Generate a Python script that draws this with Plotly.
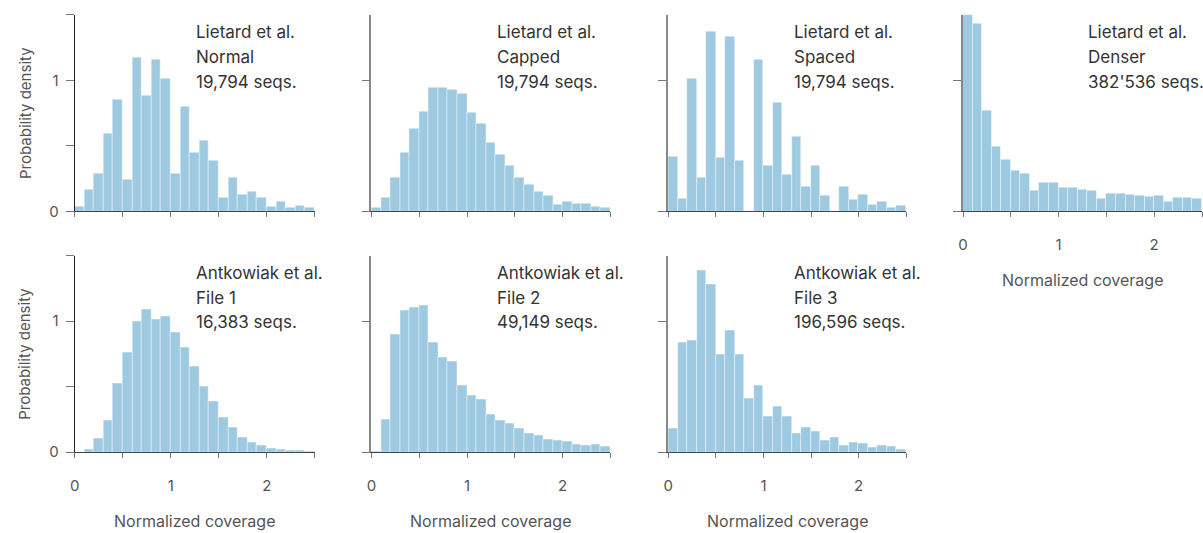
import plotly.graph_objects as go

# Histogram bin edges (normalized coverage, width 0.1 from 0 to 2.5)
bin_edges = [round(0.1 * i, 1) for i in range(26)]
bin_centers = [round((a + b) / 2, 3) for a, b in zip(bin_edges[:-1], bin_edges[1:])]

# Probability density per bin for each dataset
lietard_normal = [0.035, 0.165, 0.29, 0.595, 0.85, 0.245, 1.17, 0.88, 1.16, 1.015,
                  0.285, 0.80, 0.45, 0.535, 0.39, 0.105, 0.26, 0.125, 0.15, 0.105,
                  0.035, 0.07, 0.03, 0.045, 0.028]
lietard_capped = [0.03, 0.105, 0.26, 0.45, 0.63, 0.76, 0.945, 0.945, 0.925, 0.90,
                  0.75, 0.67, 0.52, 0.435, 0.35, 0.26, 0.205, 0.15, 0.12, 0.05,
                  0.075, 0.055, 0.055, 0.035, 0.03]
lietard_spaced = [0.42, 0.10, 1.01, 0.26, 1.37, 0.41, 1.335, 0.39, 0.0, 1.16,
                  0.345, 0.83, 0.28, 0.57, 0.19, 0.345, 0.12, 0.0, 0.19, 0.09,
                  0.13, 0.05, 0.07, 0.03, 0.045]
lietard_denser = [1.62, 1.435, 0.765, 0.49, 0.395, 0.31, 0.285, 0.16, 0.22, 0.215,
                  0.18, 0.18, 0.165, 0.155, 0.10, 0.135, 0.135, 0.125, 0.12, 0.115,
                  0.12, 0.07, 0.105, 0.105, 0.095]
antkowiak_file1 = [0.0, 0.02, 0.105, 0.24, 0.52, 0.76, 0.995, 1.09, 1.01, 1.035,
                   0.915, 0.80, 0.65, 0.50, 0.39, 0.265, 0.19, 0.115, 0.075, 0.048,
                   0.03, 0.02, 0.012, 0.01, 0.005]
antkowiak_file2 = [0.005, 0.25, 0.90, 1.08, 1.105, 1.115, 0.835, 0.725, 0.69, 0.51,
                   0.43, 0.405, 0.29, 0.245, 0.22, 0.18, 0.145, 0.13, 0.10, 0.09,
                   0.08, 0.06, 0.053, 0.055, 0.043]
antkowiak_file3 = [0.18, 0.84, 0.85, 1.385, 1.28, 0.745, 0.93, 0.745, 0.41, 0.51,
                   0.27, 0.345, 0.27, 0.145, 0.19, 0.155, 0.085, 0.11, 0.053, 0.073,
                   0.065, 0.038, 0.048, 0.04, 0.02]

# Panel labels: source, variant, sequence count
sources = ["Lietard et al.", "Lietard et al.", "Lietard et al.", "Lietard et al.",
           "Antkowiak et al.", "Antkowiak et al.", "Antkowiak et al."]
variants = ["Normal", "Capped", "Spaced", "Denser", "File 1", "File 2", "File 3"]
seq_counts = ["19,794 seqs.", "19,794 seqs.", "19,794 seqs.", "382'536 seqs.",
              "16,383 seqs.", "49,149 seqs.", "196,596 seqs."]
series = [lietard_normal, lietard_capped, lietard_spaced, lietard_denser,
          antkowiak_file1, antkowiak_file2, antkowiak_file3]

x_tick_vals = [0, 0.5, 1, 1.5, 2, 2.5]
x_tick_text = ["0", "", "1", "", "2", ""]

W, H = 1203, 533
BAR = "#9ecae1"
FONT = "Inter, Roboto, sans-serif"
LABEL_SIZE = 17

# pixel layout of panels (left, right) and rows (top, bottom)
cols_px = [(70, 311), (368, 608), (666, 905), (962, 1202)]
rows_px = [(15, 215), (260, 460)]
positions = [(0, 0), (0, 1), (0, 2), (0, 3), (1, 0), (1, 1), (1, 2)]

fig = go.Figure()
layout = dict(width=W, height=H, margin=dict(l=0, r=0, t=0, b=0),
              paper_bgcolor="white", plot_bgcolor="white", showlegend=False,
              bargap=0, font=dict(family=FONT, size=14, color="#555"))
annotations = []

for i, (vals, pos) in enumerate(zip(series, positions)):
    r, c = pos
    n = "" if i == 0 else str(i + 1)
    fig.add_trace(go.Bar(
        x=bin_centers, y=vals, width=0.1,
        marker=dict(color=BAR, line=dict(color="rgba(255,255,255,0.4)", width=1)),
        xaxis="x" + n, yaxis="y" + n, hoverinfo="x+y"))

    x0, x1 = cols_px[c]
    yt, yb = rows_px[r]
    show_xlabels = (r == 1) or (c == 3)
    layout["xaxis" + n] = dict(
        domain=[x0 / W, x1 / W], anchor="y" + n, range=[0, 2.5],
        showline=True, linecolor="#444", linewidth=1.2, showgrid=False, zeroline=False,
        ticks="outside", ticklen=5, tickcolor="#777", tickwidth=1.2,
        tickvals=x_tick_vals, ticktext=x_tick_text if show_xlabels else [""] * 6,
        ticklabelstandoff=15, tickfont=dict(size=15, color="#555"))
    ycol = "#222" if c == 0 else "#888"
    layout["yaxis" + n] = dict(
        domain=[1 - yb / H, 1 - yt / H], anchor="x" + n, range=[0, 1.5],
        showline=True, linecolor=ycol, linewidth=1.5 if c else 1.2,
        showgrid=False, zeroline=False,
        ticks="outside", ticklen=8, tickcolor="#777", tickwidth=1.2,
        tickvals=[0, 0.5, 1, 1.5] if c == 0 else [0, 1],
        ticktext=["0", "", "1", ""] if c == 0 else ["", ""],
        ticklabelstandoff=4, tickfont=dict(size=15, color="#555"))

    # three-line panel label
    tx = x0 + 120 if c == 0 else x0 + 124
    for k, txt in enumerate([sources[i], variants[i], seq_counts[i]]):
        annotations.append(dict(
            text=txt, xref="paper", yref="paper", x=tx / W, y=1 - (yt + 18 + 25 * k) / H,
            xanchor="left", yanchor="middle", showarrow=False,
            font=dict(family=FONT, size=LABEL_SIZE, color="#333")))

    if c == 0:
        annotations.append(dict(
            text="Probability density", xref="paper", yref="paper",
            x=20 / W, y=1 - (yt + yb) / 2 / H, textangle=-90,
            xanchor="center", yanchor="middle", showarrow=False,
            font=dict(family=FONT, size=15, color="#555")))
    if show_xlabels:
        ty = 285 if r == 0 else 530
        annotations.append(dict(
            text="Normalized coverage", xref="paper", yref="paper",
            x=(x0 + x1) / 2 / W, y=1 - ty / H,
            xanchor="center", yanchor="middle", showarrow=False,
            font=dict(family=FONT, size=16, color="#555")))

layout["annotations"] = annotations
fig.update_layout(**layout)
fig.write_html("out.html")
